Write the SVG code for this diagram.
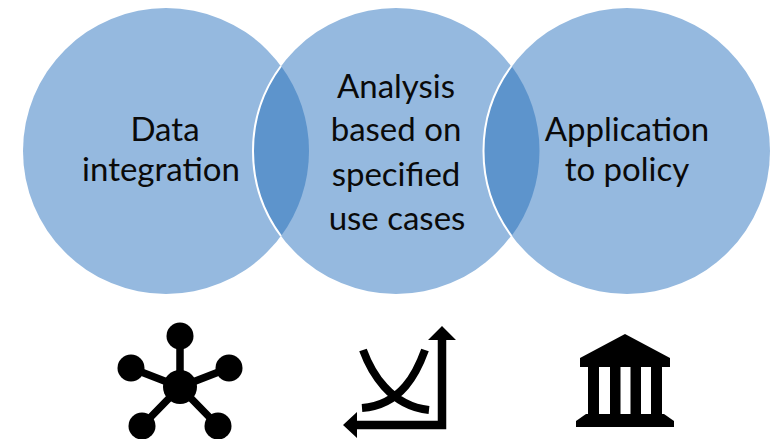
<svg xmlns="http://www.w3.org/2000/svg" width="771" height="439" viewBox="0 0 771 439">
<style>
.c{fill:#95b9df}
.l{fill:#5d94cc;stroke:none}
.w{fill:none;stroke:#fff;stroke-width:2}
.t{font-family:"Lato","Carlito","Noto Sans",sans-serif;font-size:33px;fill:#0a0a0a;text-anchor:middle}
.k{stroke:#000;fill:none}
</style>
<rect width="771" height="439" fill="#fff"/>
<g id="node-data">
<circle class="c" cx="166" cy="151" r="143"/>
<text class="t" x="165" y="141">Data</text>
<text class="t" x="161" y="181">integration</text>
</g>
<g id="node-analysis">
<circle class="c" cx="396" cy="151" r="143"/>
<text class="t" x="396" y="98">Analysis</text>
<text class="t" x="396" y="141">based on</text>
<text class="t" x="396" y="186">specified</text>
<text class="t" x="397" y="230">use cases</text>
</g>
<g id="node-policy">
<circle class="c" cx="627" cy="151" r="143"/>
<text class="t" x="627" y="141">Application</text>
<text class="t" x="627" y="181">to policy</text>
</g>
<g id="overlaps">
<path class="l" d="M281 66A143 143 0 0 1 281 236A143 143 0 0 1 281 66Z"/>
<path class="l" d="M511.500 66A143 143 0 0 1 511.500 236A143 143 0 0 1 511.500 66Z"/>
<path class="w" d="M281 66A143 143 0 0 0 281 236"/>
<path class="w" d="M511.500 66A143 143 0 0 0 511.500 236"/>
</g>
<g id="icon-network">
<path class="k" stroke-width="7.500" d="M180 387L180 337M180 387L131 368M180 387L229 368M180 387L142 426M180 387L218 426"/>
<circle cx="180" cy="387" r="17"/>
<circle cx="180" cy="336" r="13.500"/>
<circle cx="131" cy="368" r="13.500"/>
<circle cx="229" cy="368" r="13.500"/>
<circle cx="142" cy="426" r="13.500"/>
<circle cx="218" cy="426" r="13.500"/>
</g>
<g id="icon-chart">
<path class="k" stroke-width="8" d="M363 350C371 372 390 406 429 410M425 350C417 372 402 405 362 408"/>
<path class="k" stroke-width="8.500" d="M442 338V425H355"/>
<path d="M428 340L442 326L456 340ZM357 412L343 425L357 438Z"/>
</g>
<g id="icon-building">
<path d="M625 334L670 358V367H580V358Z"/>
<path d="M588 365H599V416H588ZM610 365H620.500V416H610ZM630.500 365H641V416H630.500ZM651 365H662V416H651Z"/>
<path d="M586 414H664L674 421V427H576V421Z"/>
</g>
</svg>
